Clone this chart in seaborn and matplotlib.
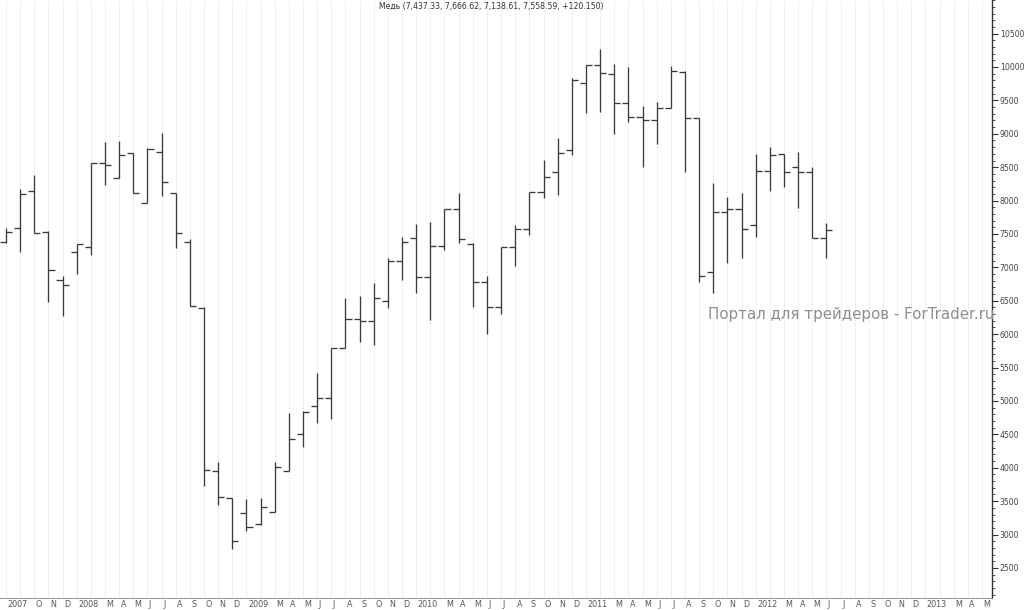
import matplotlib

matplotlib.use("Agg")
import matplotlib.pyplot as plt
import matplotlib.transforms as mtransforms
from matplotlib.ticker import MultipleLocator, FixedLocator, NullFormatter
import seaborn as sns
import pandas as pd

# Monthly OHLC, Aug 2007 .. Jun 2012
opens = [7385, 7585, 8144, 7534, 6811, 7235, 7310, 8567, 8334, 8708, 7960, 8732,
         8109, 7376, 6397, 3957, 3543, 3319, 3154, 3343, 3957, 4506, 4930, 5040,
         5789, 6227, 6202, 6501, 7100, 7436, 6861, 7325, 7874, 7350, 6777, 6403,
         7310, 7570, 8133, 8424, 8757, 9765, 10030, 9895, 9457, 9247, 9207, 9391,
         9930, 9232, 6936, 7825, 7870, 7635, 8448, 8698, 8499, 8433, 7437.33]
highs = [7585, 8174, 8383, 7545, 6871, 7350, 8567, 8882, 8897, 8708, 8783, 9016,
         8109, 7425, 6410, 4091, 3543, 3528, 3552, 4082, 4816, 4850, 5424, 5789,
         6537, 6576, 6762, 7145, 7451, 7650, 7684, 7874, 8109, 7360, 6876, 7301,
         7635, 8133, 8608, 8933, 9835, 10030, 10269, 10045, 10004, 9416, 9472, 10015,
         9940, 9232, 8268, 8058, 8109, 8693, 8807, 8700, 8732, 8507, 7666.62]
lows = [7370, 7235, 7510, 6487, 6272, 6901, 7186, 8234, 8334, 8109, 7960, 8069,
        7286, 6427, 3728, 3443, 2780, 3058, 3143, 3343, 3957, 4307, 4666, 4726,
        5789, 5879, 5838, 6388, 6811, 6612, 6213, 7260, 7361, 6412, 6003, 6302,
        7021, 7485, 8034, 8084, 8683, 9307, 9331, 8993, 9181, 8499, 8847, 9391,
        8433, 6786, 6612, 7061, 7136, 7460, 8148, 8199, 7885, 7438, 7138.61]
closes = [7534, 8099, 7510, 6961, 6737, 7350, 8558, 8533, 8683, 8109, 8772, 8283,
          7519, 6427, 3960, 3567, 2909, 3118, 3418, 4007, 4431, 4840, 5040, 5789,
          6223, 6202, 6537, 7100, 7385, 6861, 7325, 7874, 7430, 6777, 6403, 7301,
          7570, 8133, 8349, 8708, 9805, 10030, 9906, 9457, 9247, 9207, 9391, 9940,
          9232, 6871, 7825, 7870, 7570, 8448, 8683, 8433, 8433, 7438, 7558.59]

# axis labels: Aug 2007 .. May 2013
years = ["2007", "2008", "2009", "2010", "2011", "2012", "2013"]
month_letters = ["", "", "M", "A", "M", "J", "J", "A", "S", "O", "N", "D"]
first_month = 7   # August
n_months = 70

title = "Медь (7,437.33, 7,666.62, 7,138.61, 7,558.59, +120.150)"
watermark = "Портал для трейдеров - ForTrader.ru"

labels = []
for k in range(n_months):
    m = (first_month + k) % 12
    y = (first_month + k) // 12
    if k == 0 or m == 0:
        labels.append(years[y])
    else:
        labels.append(month_letters[m])
if first_month != 0:
    labels[1] = ""

df = pd.DataFrame({"open": opens, "high": highs, "low": lows, "close": closes})
df["idx"] = range(len(df))

sns.set_style("white")
plt.rcParams["font.family"] = ["DejaVu Sans"]

fig = plt.figure(figsize=(10.24, 6.10), dpi=100)
ax = fig.add_axes([0, 12 / 610, 992 / 1024, 598 / 610])

bar_color = "#3a3a3a"
w = 0.43
ax.vlines(df["idx"], df["low"], df["high"], color=bar_color, lw=0.95, zorder=3)
ax.hlines(df["open"], df["idx"] - w, df["idx"], color=bar_color, lw=0.95, zorder=3)
ax.hlines(df["close"], df["idx"], df["idx"] + w, color=bar_color, lw=0.95, zorder=3)

# dotted month grid
for k in range(n_months):
    ax.axvline(k, color="#cfcfcf", lw=0.6, ls=(0, (1.2, 2.0)), zorder=1)

ax.set_xlim(-6 / 14.145, n_months - 1 + 10 / 14.145)
ax.set_ylim(2050, 11003)

for s in ["left", "top"]:
    ax.spines[s].set_visible(False)
ax.spines["right"].set_color("#333333")
ax.spines["right"].set_linewidth(1.0)
ax.spines["bottom"].set_color("#999999")
ax.spines["bottom"].set_linewidth(0.8)

ax.yaxis.tick_right()
ax.yaxis.set_major_locator(MultipleLocator(500))
ax.yaxis.set_minor_locator(MultipleLocator(100))
ax.set_yticks(list(range(2500, 11000, 500)))
ax.tick_params(axis="y", which="major", direction="out", length=4, width=0.8,
               color="#333333", labelsize=5.6, labelcolor="#444444", pad=1.5)
ax.tick_params(axis="y", which="minor", direction="out", length=2, width=0.6,
               color="#333333")

ax.xaxis.set_major_locator(FixedLocator(range(n_months)))
ax.xaxis.set_major_formatter(NullFormatter())
ax.tick_params(axis="x", which="major", direction="out", length=2, width=0.6,
               color="#999999")
trans = mtransforms.blended_transform_factory(ax.transData, ax.transAxes)
for k, lab in enumerate(labels):
    if lab:
        ax.text(k + 0.1, -0.004, lab, transform=trans, ha="left", va="top",
                fontsize=5.8, color="#555555")

ax.text(0.495, 0.997, title, transform=ax.transAxes, ha="center", va="top",
        fontsize=5.6, color="#333333")
fig.text(708 / 1024, 1 - 315 / 610, watermark, ha="left", va="center",
         fontsize=10.8, color="#8e8e8e", zorder=10)

plt.savefig("out.png", dpi=100)
plt.close(fig)
